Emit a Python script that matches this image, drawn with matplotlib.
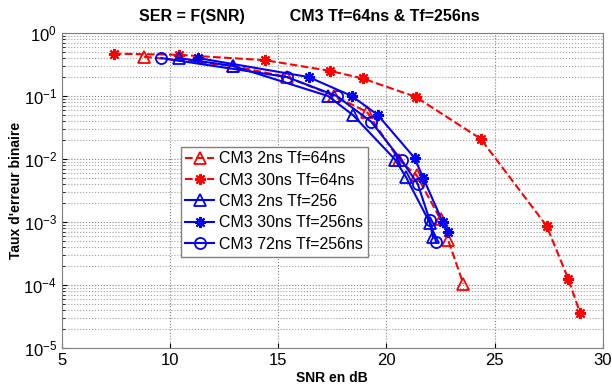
import matplotlib.pyplot as plt

plt.rcParams['font.family'] = ['Liberation Sans', 'DejaVu Sans']

# CM3 2ns Tf=64ns (red triangles, dashed)
snr_r2 = [8.8, 12.9, 15.4, 17.6, 19.1, 20.6, 21.4, 22.5, 22.85, 23.55]
ser_r2 = [0.42, 0.30, 0.20, 0.10, 0.056, 0.0095, 0.0055, 0.0011, 0.00052, 0.000105]

# CM3 30ns Tf=64ns (red asterisks, dashed)
snr_r30 = [7.4, 10.4, 14.4, 17.4, 18.9, 21.35, 24.35, 27.4, 28.4, 28.95]
ser_r30 = [0.47, 0.45, 0.37, 0.25, 0.19, 0.097, 0.021, 0.00087, 0.000126, 0.000036]

# CM3 2ns Tf=256 (blue triangles)
snr_b2 = [10.4, 12.9, 17.3, 18.45, 20.4, 20.9, 22.0, 22.15]
ser_b2 = [0.40, 0.30, 0.10, 0.05, 0.0098, 0.0052, 0.00098, 0.00058]

# CM3 30ns Tf=256ns (blue asterisks)
snr_b30 = [11.3, 16.4, 18.4, 19.6, 21.3, 21.7, 22.6, 22.85]
ser_b30 = [0.40, 0.20, 0.10, 0.05, 0.0104, 0.005, 0.001, 0.0007]

# CM3 72ns Tf=256ns (blue circles)
snr_b72 = [9.6, 15.4, 17.7, 19.3, 20.7, 21.45, 22.0, 22.3]
ser_b72 = [0.40, 0.20, 0.10, 0.039, 0.0095, 0.004, 0.00107, 0.00048]

red = '#ff0000'
blue = '#0000ff'

fig = plt.figure(figsize=(6.12, 3.88), dpi=100)
ax = fig.add_axes([0.101, 0.103, 0.884, 0.812])

ax.plot(snr_r2, ser_r2, '--', color=red, marker='^', mfc='none', ms=8, lw=1.5, mew=1.3, label='CM3 2ns Tf=64ns')
ax.plot(snr_r30, ser_r30, '--', color=red, marker=(8, 2, 0), ms=8, lw=1.5, mew=1.5, label='CM3 30ns Tf=64ns')
ax.plot(snr_b2, ser_b2, '-', color=blue, marker='^', mfc='none', ms=8, lw=1.5, mew=1.3, label='CM3 2ns Tf=256')
ax.plot(snr_b30, ser_b30, '-', color=blue, marker=(8, 2, 0), ms=8, lw=1.5, mew=1.5, label='CM3 30ns Tf=256ns')
ax.plot(snr_b72, ser_b72, '-', color=blue, marker='o', mfc='none', ms=8, lw=1.5, mew=1.3, label='CM3 72ns Tf=256ns')

ax.set_yscale('log')
ax.set_xlim(5, 30)
ax.set_ylim(1e-5, 1)
ax.set_xticks([5, 10, 15, 20, 25, 30])
ax.grid(True, which='major', linestyle=':', color='#808080', lw=0.8)
ax.grid(True, which='minor', linestyle=':', color='#a0a0a0', lw=0.8)
ax.tick_params(labelsize=12, direction='in', which='both')
for s in ax.spines.values():
    s.set_color('#808080')

ax.set_xlabel('SNR en dB', fontsize=10, fontweight='bold', labelpad=2)
ax.set_ylabel("Taux d'erreur binaire", fontsize=10, fontweight='bold', labelpad=0)
fig.text(309 / 612, 1 - 16 / 388, 'SER = F(SNR)          CM3 Tf=64ns & Tf=256ns',
         fontsize=11.5, fontweight='bold', ha='center', va='center')

leg = ax.legend(loc='upper left', bbox_to_anchor=(0.205, 0.665), fontsize=11.5,
                fancybox=False, framealpha=1, edgecolor='#808080',
                handlelength=1.8, handletextpad=0.3, borderpad=0.3, labelspacing=0.4)

fig.savefig('out.png', dpi=100)
